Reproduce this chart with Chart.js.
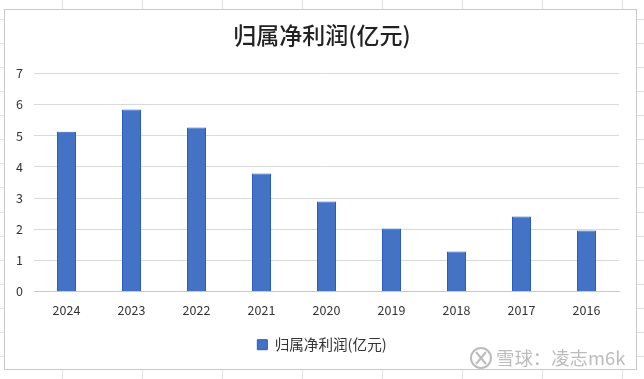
<!DOCTYPE html>
<html>
<head>
<meta charset="utf-8">
<style>
  html, body { margin: 0; padding: 0; background: #fff; }
  #wrap { position: relative; width: 644px; height: 379px; }
</style>
<script src="https://cdn.jsdelivr.net/npm/chart.js@4"></script>
</head>
<body>
<div id="wrap"><canvas id="myChart" width="644" height="379"></canvas></div>
<script>
const years = ["2024", "2023", "2022", "2021", "2020", "2019", "2018", "2017", "2016"];
const netProfit = [5.13, 5.85, 5.27, 3.79, 2.89, 2.02, 1.28, 2.41, 1.96];
const yTicks = [0, 1, 2, 3, 4, 5, 6, 7];
const seriesName = "归属净利润(亿元)";
const watermark = "雪球：凌志m6k";

// spreadsheet cells behind the chart and the chart frame
const sheetColumns = [62, 142, 222, 302, 382, 462, 542, 622];
const sheetRows = [19, 43, 67, 91, 115, 139, 163, 187, 212, 236, 260, 284, 308, 332, 356];

const cjk = '"Noto Sans CJK SC", "Noto Sans", sans-serif';

const sheetBackground = {
  id: "sheetBackground",
  beforeDraw(chart) {
    const c = chart.ctx;
    c.save();
    c.fillStyle = "#ffffff";
    c.fillRect(0, 0, 644, 379);
    c.strokeStyle = "#e2e2e2";
    c.lineWidth = 1;
    sheetColumns.forEach((x) => {
      c.beginPath(); c.moveTo(x + 0.5, 0); c.lineTo(x + 0.5, 379); c.stroke();
    });
    sheetRows.forEach((y) => {
      c.beginPath(); c.moveTo(0, y + 0.5); c.lineTo(644, y + 0.5); c.stroke();
    });
    c.fillStyle = "#ffffff";
    c.fillRect(4, 9, 633, 360);
    c.strokeStyle = "#c9c9c9";
    c.strokeRect(4.5, 9.5, 632, 360);
    c.restore();
  },
  afterDraw(chart) {
    // xueqiu watermark, bottom right
    const c = chart.ctx;
    c.save();
    c.font = "18.4px " + cjk;
    c.fillStyle = "rgba(165,165,165,0.75)";
    c.textBaseline = "middle";
    c.fillText(watermark, 496, 358);
    c.strokeStyle = "rgba(165,165,165,0.75)";
    c.lineWidth = 2;
    c.beginPath(); c.arc(481, 358, 10, 0, Math.PI * 2); c.stroke();
    c.beginPath(); c.moveTo(476, 352); c.lineTo(486, 364); c.moveTo(486, 352); c.lineTo(476, 364); c.stroke();
    c.restore();
  },
};

new Chart(document.getElementById("myChart"), {
  type: "bar",
  data: {
    labels: years,
    datasets: [
      {
        label: seriesName,
        data: netProfit,
        backgroundColor: "#4472c4",
        borderColor: "#2a5bc5",
        borderWidth: 1,
        barPercentage: 19 / 65,
        categoryPercentage: 1,
      },
    ],
  },
  plugins: [sheetBackground],
  options: {
    responsive: false,
    animation: false,
    layout: { padding: { left: 25, right: 25, top: 0, bottom: 17 } },
    plugins: {
      title: {
        display: true,
        text: seriesName,
        color: "#222222",
        font: { family: cjk, size: 23, weight: "500" },
        padding: { top: 21, bottom: 25 },
      },
      legend: {
        position: "bottom",
        labels: {
          color: "#333333",
          font: { family: cjk, size: 14.6 },
          boxWidth: 10,
          boxHeight: 10,
          padding: 17,
        },
      },
      tooltip: { enabled: false },
    },
    scales: {
      x: {
        grid: { display: false },
        border: { color: "#c8c8c8" },
        ticks: { color: "#333333", font: { family: cjk, size: 12.5 }, padding: 3 },
      },
      y: {
        min: 0,
        max: 7,
        afterBuildTicks(axis) { axis.ticks = yTicks.map((v) => ({ value: v })); },
        afterFit(axis) { axis.width = 9; },
        grid: { color: "#d9d9d9", drawTicks: false },
        border: { display: false },
        // mirrored so the labels sit left of the narrow axis box without being clipped
        ticks: { mirror: true, color: "#333333", font: { family: cjk, size: 12.5 }, padding: -18 },
      },
    },
  },
});
</script>
</body>
</html>
